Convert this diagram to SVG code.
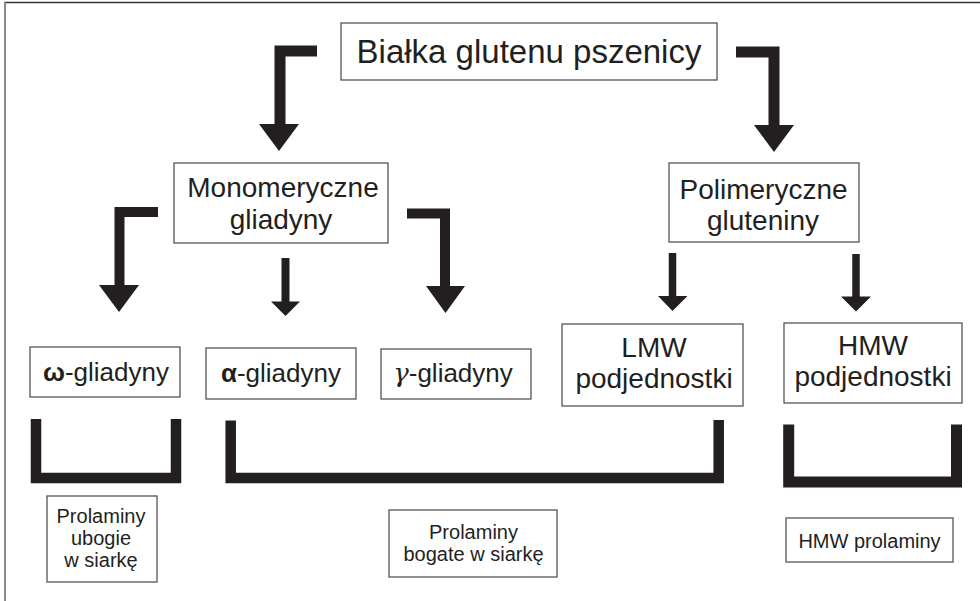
<svg xmlns="http://www.w3.org/2000/svg" width="980" height="601" viewBox="0 0 980 601">
<style>
.box{fill:#fff;stroke:#555;stroke-width:1.3}
.t{font-family:"Liberation Sans",Arial,sans-serif;fill:#231f20;text-anchor:middle}
.big{font-size:33px}
.md{font-size:28px}
.sm{font-size:26px}
.xs{font-size:20px}
.bar{fill:none;stroke:#231f20;stroke-linejoin:miter;stroke-linecap:butt}
.head{fill:#231f20}
</style>
<rect width="980" height="601" fill="#fff"/>
<g id="frame">
<line x1="4" y1="2.5" x2="980" y2="2.5" stroke="#333" stroke-width="1.5"/>
<line x1="5" y1="2" x2="5" y2="601" stroke="#888" stroke-width="2"/>
</g>
<g id="connectors">
<polyline class="bar" stroke-width="11" points="317,51 280,51 280,126"/>
<polygon class="head" points="259,124 299,124 279,151"/>
<polyline class="bar" stroke-width="11" points="736,52 774,52 774,127"/>
<polygon class="head" points="754,125 794,125 774,152"/>
<polyline class="bar" stroke-width="10" points="158,212 119.5,212 119.5,287"/>
<polygon class="head" points="99,285 139,285 119,312"/>
<polyline class="bar" stroke-width="8" points="285.5,258 285.5,303"/>
<polygon class="head" points="271,301.5 300,301.5 285.5,316"/>
<polyline class="bar" stroke-width="10" points="407,213.5 445,213.5 445,288"/>
<polygon class="head" points="426,286 465,286 445.5,313"/>
<polyline class="bar" stroke-width="7.5" points="672.5,253 672.5,298"/>
<polygon class="head" points="658,296 687.5,296 672.5,311"/>
<polyline class="bar" stroke-width="7.5" points="856,254 856,299"/>
<polygon class="head" points="841,296.5 871,296.5 856,311.5"/>
<polyline class="bar" stroke-width="10.5" points="36,419 36,478 176,478 176,419"/>
<polyline class="bar" stroke-width="10.5" points="230.7,420.5 230.7,478 718.7,478 718.7,420"/>
<polyline class="bar" stroke-width="11" points="788.7,424.5 788.7,482 956.5,482 956.5,424.5"/>
</g>
<g id="n-bialka">
<rect class="box" x="341" y="23" width="376" height="57"/>
<text class="t big" x="529" y="63">Białka glutenu pszenicy</text>
</g>
<g id="n-mono">
<rect class="box" x="174" y="163" width="214" height="80"/>
<text class="t md" x="283" y="197">Monomeryczne</text>
<text class="t md" x="281" y="229">gliadyny</text>
</g>
<g id="n-poli">
<rect class="box" x="669" y="163" width="190" height="79"/>
<text class="t md" x="763.5" y="199">Polimeryczne</text>
<text class="t md" x="763" y="230">gluteniny</text>
</g>
<g id="n-omega">
<rect class="box" x="30" y="347" width="150" height="50"/>
<text class="t sm" x="106" y="381"><tspan font-weight="bold">ω</tspan>-gliadyny</text>
</g>
<g id="n-alpha">
<rect class="box" x="206" y="348" width="150" height="51"/>
<text class="t sm" x="281" y="382"><tspan font-weight="bold">α</tspan>-gliadyny</text>
</g>
<g id="n-gamma">
<rect class="box" x="381" y="349" width="150" height="50"/>
<text class="t sm" x="453" y="382"><tspan font-family="'DejaVu Serif',serif" font-style="italic">γ</tspan>-gliadyny</text>
</g>
<g id="n-lmw">
<rect class="box" x="562" y="324" width="181" height="82"/>
<text class="t md" x="654" y="357">LMW</text>
<text class="t md" x="654" y="388">podjednostki</text>
</g>
<g id="n-hmw">
<rect class="box" x="784" y="323" width="178" height="80"/>
<text class="t md" x="873" y="355">HMW</text>
<text class="t md" x="873" y="386">podjednostki</text>
</g>
<g id="n-ubogie">
<rect class="box" x="47" y="496" width="110" height="86"/>
<text class="t xs" x="101" y="523">Prolaminy</text>
<text class="t xs" x="101" y="545">ubogie</text>
<text class="t xs" x="101" y="567">w siarkę</text>
</g>
<g id="n-bogate">
<rect class="box" x="389" y="510" width="168" height="67"/>
<text class="t xs" x="473.5" y="539">Prolaminy</text>
<text class="t xs" x="473.5" y="561">bogate w siarkę</text>
</g>
<g id="n-hmwprol">
<rect class="box" x="786" y="518" width="167" height="44"/>
<text class="t xs" x="869.5" y="548">HMW prolaminy</text>
</g>
</svg>
